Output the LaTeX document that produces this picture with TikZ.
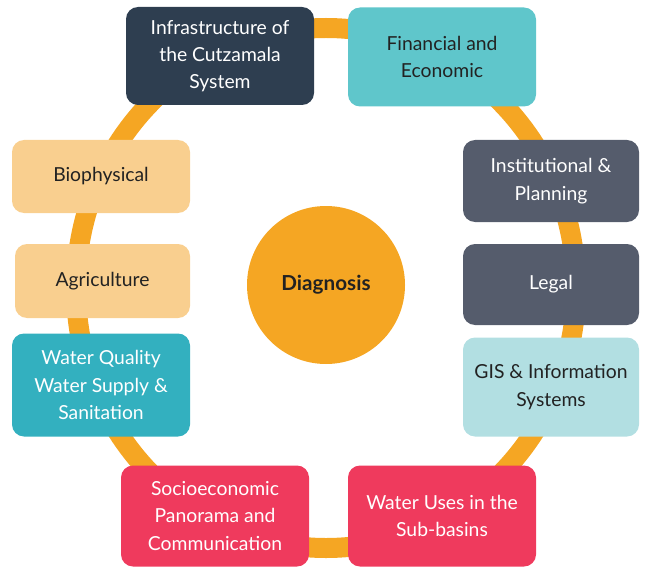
\documentclass[tikz,border=0pt]{standalone}
\usepackage{fontspec}
\setmainfont{Lato}
\definecolor{ring}{HTML}{F5A623}
\definecolor{navy}{HTML}{2E3E50}
\definecolor{tealL}{HTML}{5FC6CB}
\definecolor{slate}{HTML}{555C6C}
\definecolor{paleblue}{HTML}{B2DFE2}
\definecolor{rose}{HTML}{EF3A5D}
\definecolor{tealD}{HTML}{33B0BF}
\definecolor{peach}{HTML}{F9CF8F}
\definecolor{ink}{HTML}{222222}
\tikzset{
  box/.style={rectangle, rounded corners=9pt, align=center, inner sep=2pt,
    font=\fontsize{14.5}{20.5}\selectfont},
  darkbox/.style={box, text=white},
  lightbox/.style={box, text=ink},
}
\begin{document}
\begin{tikzpicture}[x=0.75pt,y=-0.75pt]
\useasboundingbox (0,0) rectangle (649,574);
\coordinate (rc) at (326,288);
\draw[ring, line width=15pt] (rc) ellipse [x radius=250, y radius=260];
\node[circle, fill=ring, minimum size=118.5pt, inner sep=0pt, text=ink,
  font=\fontsize{15.5}{20}\selectfont\bfseries] (diag) at (326,285) {Diagnosis};
\node[darkbox, fill=navy, minimum width=141pt, minimum height=73.5pt] (infra) at (220,56) {Infrastructure of\\the Cutzamala\\System};
\node[lightbox, fill=tealL, minimum width=141pt, minimum height=74.25pt] (fin) at (442,57) {Financial and\\Economic};
\node[darkbox, fill=slate, minimum width=132pt, minimum height=61.5pt] (inst) at (551,181) {Institutional \&\\Planning};
\node[darkbox, fill=slate, minimum width=132pt, minimum height=60.75pt] (legal) at (551,284.5) {Legal};
\node[lightbox, fill=paleblue, minimum width=132pt, minimum height=74.25pt] (gis) at (551,387) {GIS \& Information\\Systems};
\node[darkbox, fill=rose, minimum width=141pt, minimum height=75.75pt] (uses) at (442,516) {Water Uses in the\\Sub-basins};
\node[darkbox, fill=rose, minimum width=141pt, minimum height=75.75pt] (socio) at (215,516) {Socioeconomic\\Panorama and\\Communication};
\node[darkbox, fill=tealD, minimum width=133.5pt, minimum height=77.25pt] (wq) at (101,385) {Water Quality\\Water Supply \&\\Sanitation};
\node[lightbox, fill=peach, minimum width=131.25pt, minimum height=55.5pt] (agri) at (102.5,281) {Agriculture};
\node[lightbox, fill=peach, minimum width=133.5pt, minimum height=54.75pt] (bio) at (101,176.5) {Biophysical};
\end{tikzpicture}
\end{document}
